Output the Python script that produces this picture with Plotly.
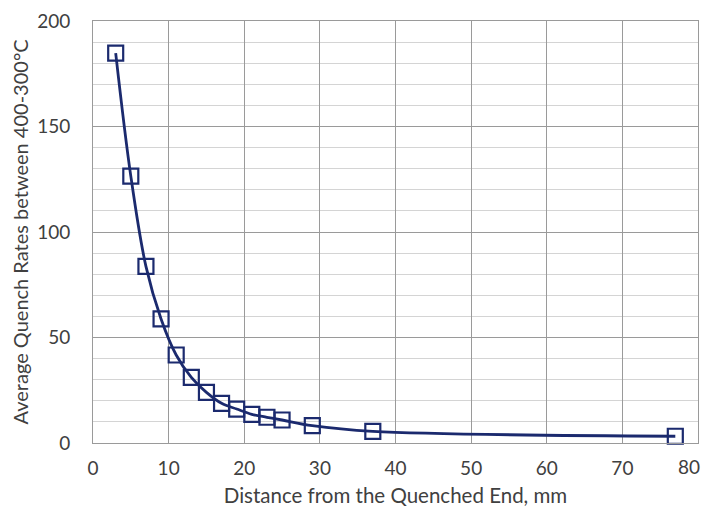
import plotly.graph_objects as go

distance_mm = [3, 5, 7, 9, 11, 13, 15, 17, 19, 21, 23, 25, 29, 37, 77]
quench_rate = [184.8, 126.5, 83.7, 58.8, 41.7, 31.1, 24.0, 18.8, 16.1, 13.6, 12.2, 10.9, 8.2, 5.5, 3.2]

x_tick_vals = [0, 10, 20, 30, 40, 50, 60, 70, 80]
x_tick_text = ["0", "10", "20", "30", "40", "50", "60", "70", "80"]

x_title = "Distance from the Quenched End, mm"
y_title = "Average Quench Rates between 400-300°C"

navy = "#1B2A6E"
font_family = "Lato, 'Open Sans', sans-serif"
label_color = "#404040"

fig = go.Figure()
fig.add_trace(go.Scatter(
    x=distance_mm, y=quench_rate,
    mode="lines+markers",
    line=dict(color=navy, width=2.8, shape="spline", smoothing=1.0),
    marker=dict(symbol="square-open", size=15, color=navy, line=dict(width=2.2, color=navy)),
    showlegend=False, cliponaxis=False,
))

# the last tick label sits at the window edge; draw it as an annotation nudged inside
fig.add_annotation(
    x=x_tick_vals[-1], xref="x", y=0, yref="paper",
    text=x_tick_text[-1], showarrow=False,
    xanchor="right", yanchor="top", xshift=4, yshift=-10,
    font=dict(family=font_family, size=19, color=label_color),
)

# page body has an 8px default margin, so the figure is sized to fit the window
fig.update_layout(
    width=703, height=499,
    margin=dict(l=85, r=13, t=13, b=64),
    paper_bgcolor="white", plot_bgcolor="white",
    font=dict(family=font_family, size=19, color=label_color),
    xaxis=dict(
        range=[0, 80],
        tickvals=x_tick_vals[:-1], ticktext=x_tick_text[:-1],
        showgrid=True, gridcolor="#9A9A9A", gridwidth=1,
        showline=True, linecolor="#9A9A9A", linewidth=1, mirror=True,
        zeroline=False, ticks="", automargin=False, ticklabelstandoff=8,
        title=dict(text=x_title, font=dict(size=20.5), standoff=10),
        tickfont=dict(size=19),
    ),
    yaxis=dict(
        range=[0, 200], dtick=50, tick0=0,
        showgrid=True, gridcolor="#9A9A9A", gridwidth=1,
        minor=dict(dtick=10, showgrid=True, gridcolor="#D4D4D4", gridwidth=1),
        showline=True, linecolor="#9A9A9A", linewidth=1, mirror=True,
        zeroline=False, ticks="", automargin=False, ticklabelstandoff=18,
        title=dict(text=y_title, font=dict(size=20), standoff=12),
        tickfont=dict(size=19),
    ),
)

fig.write_html("out.html")
